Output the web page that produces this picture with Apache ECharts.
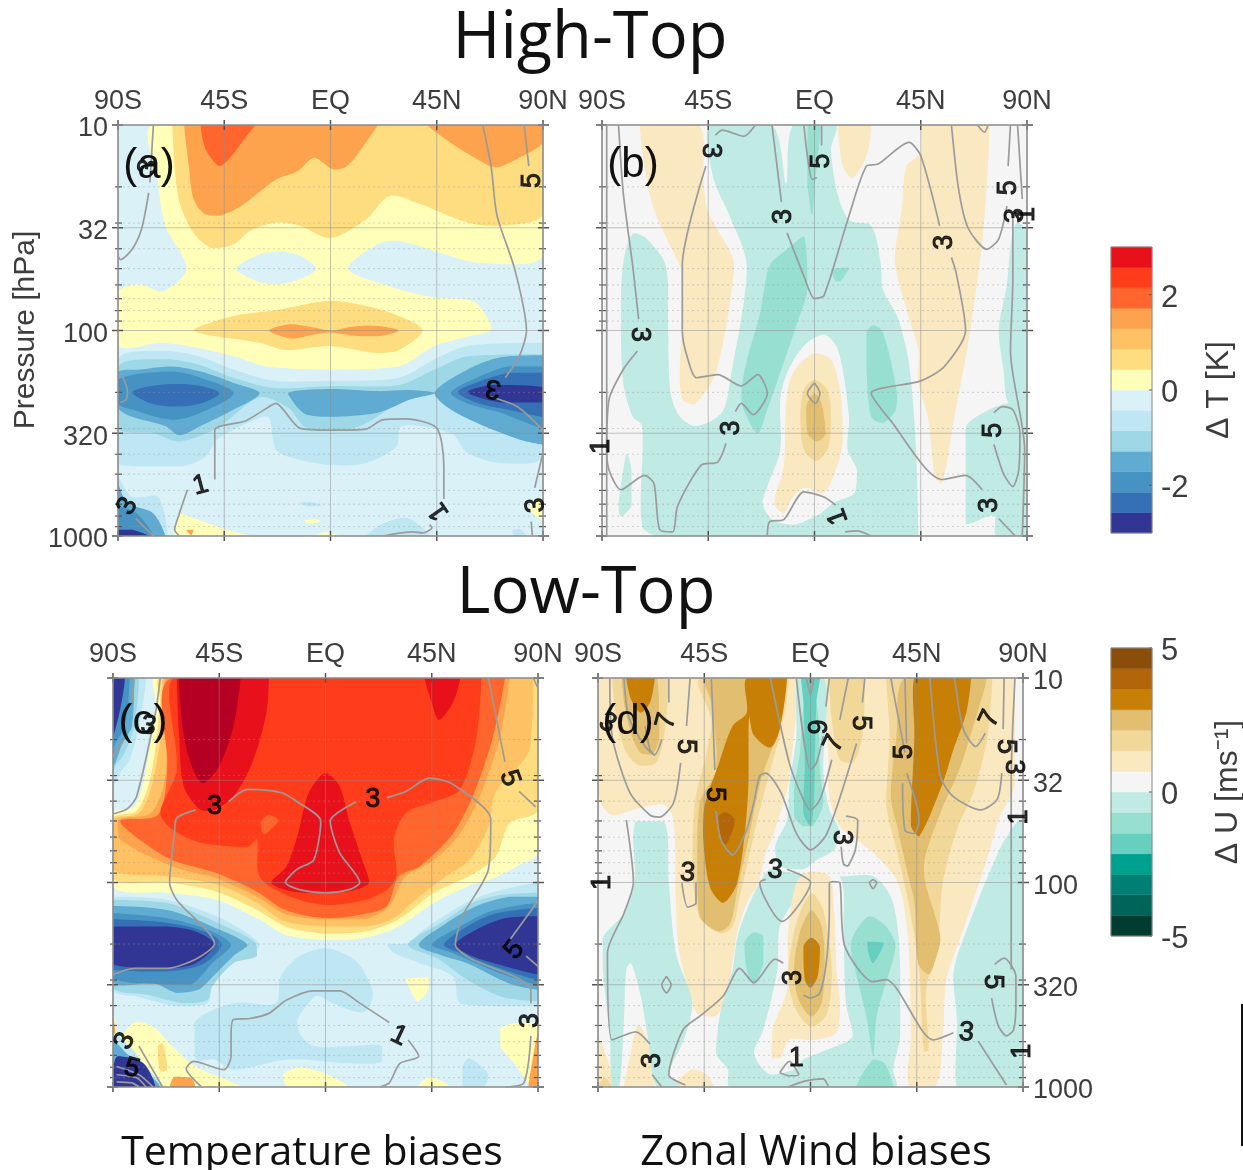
<!DOCTYPE html>
<html><head><meta charset="utf-8">
<style>html,body{margin:0;padding:0;background:#fff}#c{width:1243px;height:1170px;filter:blur(0.5px)}</style>
<script src="https://cdn.jsdelivr.net/npm/echarts@6/dist/echarts.min.js"></script>
</head><body><div id="c"></div><script>
const latLabels = {'-90':'90S','-45':'45S','0':'EQ','45':'45N','90':'90N'};
const pressureLabels = ['10','32','100','320','1000'];
const minorPressures = [20,30,40,50,60,70,80,90,200,300,400,500,600,700,800,900];
const tempLevels = [-7,-6,-5,-4,-3,-2,-1,1,2,3,4,5,6,7];
const tempColors = ['#313695','#3570B6','#4592C3','#5FABD2','#9ED8E6','#BEE7F3','#DAF1F8','#FFFFB9','#FEDD80','#FEC265','#FDA34D','#FF652D','#FF3D1B','#E8101A'];
const windColors = ['#003C30','#00645A','#007F74','#00A08F','#66CFBF','#97E0D0','#C0EAE4','#F5F5F5','#F9E8C0','#F2D898','#E2BF70','#C87F06','#B3650A','#8A4E0A'];
const extraHot = '#B50024';

/* filled contour bands: [level, [lat, levelOfPressure, lat, levelOfPressure ...]] */
const bandsA = [
[1,[-75,0,90,0,90,1.27,63,1.34,46,1.24,29,1.13,20,1.16,7.5,1.40,25,1.57,44,1.68,58,1.70,63,1.76,68,1.99,58,2.06,44,2.15,29,2.35,0,2.38,-27,2.35,-41,2.25,-70,2.12,-90,2.15,-90,1.63,-81,1.55,-71,1.62,-61,1.40,-70,.98,-73,.56]],
[-1,[-40,1.40,-30,1.26,-21,1.23,-13,1.27,-6,1.40,-13,1.50,-23,1.55,-31,1.52]],
[2,[-67,0,90,0,90,.87,72,.98,58,.95,38,.77,25,.69,15,.92,0,1.10,-13,.98,-23,.95,-34,1.03,-41,1.16,-50,1.20,-58,1.05,-64,.75,-66,.40]],
[4,[-62,0,-60,.40,-58,.72,-53,.87,-47,.88,-38,.79,-23,.53,-14,.45,-7,.32,1,.43,7,.40,15,.17,20,0]],
[4,[41,0,52,.19,62,.33,70,.41,79,.33,90,.17,90,0]],
[5,[-55,0,-53,.23,-47,.40,-43,.33,-37,.15,-32,0]],
[2,[-58,2,-41,1.86,-23,1.80,0,1.71,15,1.76,29,1.86,39,2,29,2.19,20,2.22,0,2.15,-19,2.19,-30,2.12]],
[4,[-26,2,-17,1.94,-7,1.97,0,2,10,1.96,22,1.96,29,2,22,2.05,10,2.05,0,2.02,-7,2.04,-16,2.08]],
[-2,[-90,2.28,-70,2.20,-56,2.25,-41,2.38,-24,2.49,0,2.49,29,2.46,44,2.28,58,2.15,90,2.12,90,3.23,72,3.29,58,3.19,51,3.0,30,2.93,28,3.13,15,3.29,1,3.31,-13,3.26,-23,3.16,-26,2.85,-30,2.85,-48,3.06,-53,3.23,-63,3.32,-84,3.32,-90,3.29]],
[-3,[-90,2.35,-70,2.28,-56,2.33,-41,2.46,-24,2.56,0,2.54,29,2.53,44,2.38,58,2.25,90,2.23,90,3.11,80,3.06,65,2.93,51,2.77,44,2.62,30,2.70,10,2.95,-10,2.95,-18,2.75,-30,2.65,-48,2.95,-64,3.08,-75,3.0,-90,2.95]],
[-4,[-90,2.41,-81,2.38,-67,2.35,-55,2.40,-41,2.51,-30,2.61,-41,2.77,-55,2.93,-64,3.02,-70,2.93,-84,2.84,-90,2.75]],
[-4,[-18,2.61,0,2.57,20,2.59,34,2.58,44,2.61,34,2.67,20,2.80,0,2.84,-10,2.82,-14,2.75]],
[-4,[44,2.61,58,2.38,72,2.26,90,2.24,90,3.11,80,3.06,65,2.93,51,2.77]],
[-5,[-90,2.48,-67,2.40,-55,2.46,-41,2.61,-55,2.80,-67,2.87,-84,2.77,-90,2.71]],
[-5,[51,2.61,60,2.48,75,2.35,90,2.35,90,2.95,72,2.80,58,2.71]],
[-6,[-84,2.6,-76,2.54,-65,2.52,-55,2.54,-47,2.61,-55,2.71,-65,2.74,-76,2.71]],
[-6,[54,2.6,65,2.48,76,2.41,90,2.41,90,2.84,75,2.77,63,2.71]],
[-7,[58,2.6,68,2.53,90,2.55,90,2.70,72,2.70]],
[-2,[-90,3.42,-84,3.62,-73,3.62,-69,4,-90,4]],
[-4,[-90,3.49,-86,3.68,-75,3.78,-70,4,-90,4]],
[-5,[-90,3.71,-82,3.78,-75,4,-90,4]],
[-7,[-90,3.94,-84,3.94,-77,4,-90,4]],
[1,[-66,4,-64,3.78,-55,3.85,-44,3.94,-34,4]],
[4,[-61,3.94,-58,3.94,-59,3.99]],
[-2,[-13,3.68,-8,3.67,-4,3.70,-10,3.71]],
[1,[-11,3.85,-6,3.84,-4,3.86,-9,3.88]],
[-2,[15,4,22,3.88,32,3.82,38,3.9,42,4]],
[1,[-7,4,-2,3.96,4,4]],
[1,[84,3.72,90,3.62,90,3.85]],
[-2,[77,3.95,80,3.93,83,4,78,4]]
];
const contoursA = [
[-75,0,-76.5,.56],[-77,.66,-80,1.01,-84,1.21,-89,1.31,-90,1.27],
[-88,2.45,-86,2.59,-86.5,2.67,-89,2.70],
[-60.6,3.55,-64,3.78,-66,3.94,-64,4],
[-49,3.45,-49,2.97,-36,2.88,-28,2.77,-23,2.71,-20,2.77,-13,2.95,0,2.97,15,2.96,22,2.87,32,2.86,45,2.95,48,3.32,48,3.64],
[22,4,35,3.96,39,3.97,43,3.92,42,3.89],
[64.5,0,68,.40,70.5,.88,78,1.40,83,2,80,2.25,74,2.46],[67,2.64,79,2.74,90,2.97],
[90,3.19,86.5,3.53],[85,3.86,85.5,4],
[82,0,84,.40],
[-82.5,3.83,-75,4]
];
const labelsA = [[-77,.41,'3',80],[-55,3.51,'1',15],[46,3.76,'1',125],[85.5,.54,'5',90],[69,2.56,'3',170],[-86,3.71,'3',60],[87,3.7,'3',95]];

const bandsB = [
[-1,[-44,0,-18,0,-12,.57,-9,0,9,0,7,.24,10,.69,15,.93,24,.98,28,1.34,29,1.6,35,1.86,39,2.19,41,2.51,43,3.16,44,4,-66,4,-73,3.9,-73,2.93,-77,2.84,-81,2.51,-82,1.86,-81,1.34,-77,1.06,-71,1.11,-63,1.37,-62,2.0,-61,2.6,-57,2.84,-50,2.93,-39,2.79,-35,2.38,-30,1.73,-29,1.31,-36,.88,-43,.5]],
[-1,[-79.5,3.2,-77.5,3.36,-77.5,3.7,-82,3.81,-83,3.7,-81,3.36]],
[-1,[64,2.95,74,2.77,84,2.7,90,2.84,90,4,77,4,76,3.8,64,3.88,64,3.58]],
[-1,[86,.95,90,1.05,90,2.84,82,2.7,80,2.38,78,2.0,81.5,1.55,83.5,1.1]],
[2,[-74,0,-49,0,-47,.56,-45,.85,-34,1.34,-36,1.76,-39,2.15,-43,2.48,-51,2.72,-56,2.67,-57,2.35,-56,1.93,-56,1.44,-61,1.18,-68,.82,-72,.40]],
[2,[10,0,24,0,22,.3,16,.52,12,.40]],
[2,[46,0,74,0,73.5,.40,71,1.14,66,1.99,62,2.51,59,2.87,54,3.49,51,3.42,48,2.84,44,2.51,44,2.19,39,1.8,34,1.31,37,.82,39,.40,45,.27]],
[1,[4,2.04,10,2.19,14.6,2.84,14,3.16,18,3.36,17,3.58,8,3.68,2.5,3.78,-9,3.89,-18,3.84,-22,3.68,-20,3.52,-14.5,3.16,-14.5,2.67,-11.6,2.41,-4.5,2.15]],
[2,[0,2.22,7,2.28,11,2.61,12,3.06,10,3.29,4,3.58,-4.5,3.53,-10,3.65,-13,3.78,-17,3.68,-13,3.32,-12,2.71,-9,2.41]],
[3,[0,2.48,5.4,2.58,7,2.84,6,3.13,1,3.27,-4.5,3.16,-6,2.84,-4.5,2.58]],
[4,[0,2.61,3,2.71,4.7,3,1,3.08,-3,3,-3.5,2.74]],
[-2,[-4.5,1.08,-3,1.6,-7.4,1.93,-16,2.51,-20,2.77,-24,3,-30,2.77,-31,2.61,-29,2.32,-23,1.83,-19,1.37,-11.6,1.21]],
[-2,[25,1.95,29,2.02,35,2.61,34.5,2.77,29,2.9,24,2.84,22,2.35,22,2.02]],
[-2,[7,1.4,14.6,1.39,11,1.52,9,1.52]],
[-2,[-3,0,2.5,0,.4,.53,-1,.88,-3,.56]]
];
const contoursB = [
[-83,0,-81,.66,-77,1.37,-74.5,1.89],
[-75,2.2,-81,2.38,-87,2.67,-88,3.16,-87,3.36,-82,3.55,-72,3.41,-68,3.49,-65.5,3.94,-60,3.96,-58,3.71,-48,3.31,-41,3.28,-37.5,3.1],
[-33.5,2.79,-31,2.71,-26,2.82,-20,2.61,-24,2.43,-31,2.54,-41,2.43,-50,2.46,-54,2.25,-56,2,-56,1.37,-46,.4],
[-42,.1,-39,.05,-30,.11,-25,0],
[-18,0,-14,.75],[-11.6,1.05,-4.5,1.47,0,1.69,4,1.66,14,.93,22,.4,27,.38,40,.17,45,.3,53,.98],
[58,1.29,60,1.44,64,2,55,2.35,45,2.49,24,2.61,32,2.87,54,3.45,64,3.41,71,3.55],[78,3.83,85,4],
[-4.5,0,-1,.53,1,.51],[3,0,3,.2],
[58,0,61,.62,65,1.0,73,1.21,78,1.11,81.5,.79],[82,.4,83,0],
[0,2.51,2.3,2.61,.4,2.71,-3,2.61,0,2.51],
[69,0,72,.07,73.5,0],
[76,3.11,80,3.39,84,3.52,86.5,3.36,87,3,84,2.77,79.6,2.74,76,2.8],
[-20,4,-19,3.86,-13,3.84,-4.5,3.57,4,3.62,9,3.7],
[13,3.96,18,3.95,24,4],
[84,.89,84,1.5,83,2.2,89,3.16,88,4],
[86,0,88,.72],[-88,0,-88,4]
];
const labelsB = [[-74,2.04,'3',-90],[-44,.25,'3',-90],[-13,.89,'3',90],[3,.35,'5',90],[55,1.14,'3',90],[82,.61,'5',90],[85,.88,'3',90],[90,.87,'1',90],[-35,2.95,'3',90],[76,2.97,'5',90],[74,3.7,'3',90],[10,3.81,'1',110],[-90,3.13,'1',90]];

const bandsC = [
[1,[-72,0,90,0,90,1.71,82,1.83,71,1.96,60,2.04,46,2.20,31,2.43,17,2.54,0,2.56,-17,2.51,-29,2.35,-46,2.17,-67,2.10,-90,2.04,-90,1.32,-81,1.26,-76,.90,-72,.24]],
[2,[-70,0,90,0,90,1.29,78,1.42,72,1.75,63,1.91,46,2.10,31,2.36,17,2.48,0,2.50,-17,2.43,-29,2.27,-46,2.09,-67,2.0,-90,1.96,-90,1.37,-80,1.30,-74,.96,-70,.24]],
[3,[-68,0,88,0,86.5,.70,72,1.12,69,1.45,61,1.78,51,1.94,38,2.17,28,2.36,17,2.43,0,2.43,-17,2.38,-29,2.20,-46,2.02,-67,1.94,-90,1.87,-90,1.39,-79,1.32,-73,1.0,-68,.24]],
[4,[-67,0,78,0,74,.57,66,1.12,57,1.52,46,1.78,34,1.94,27,2.23,17,2.36,0,2.36,-17,2.31,-29,2.14,-46,1.96,-65,1.84,-87,1.58,-88,1.39,-74,1.32,-68,.99,-67,.24]],
[5,[-65,0,76,0,71,.57,63,1.12,54,1.52,40,1.84,31,1.94,26,2.23,16,2.31,0,2.35,-17,2.27,-29,2.09,-46,1.91,-65,1.78,-77,1.61,-87,1.40,-71,1.34,-67,.90]],
[6,[-64,0,66,0,64,.57,57,1.09,46,1.21,34,1.32,29,1.58,30,1.94,26,2.07,17,2.17,0,2.22,-17,2.12,-28,1.94,-29,1.58,-33,1.65,-53,1.61,-65,1.48,-70,1.32,-63,.90]],
[7,[-63,0,-62,.57,-60,1.06,-53,1.29,-48,1.30,-39,1.16,-31,.83,-25,.34,-24,0]],
[8,[-62,0,-36,0,-39,.47,-45,.86,-52,1.03,-56,.90,-60,.57]],
[7,[42,0,57,0,54,.24,48,.41,45,.24]],
[7,[0,.93,6,1.06,10,1.39,15,1.74,18.5,2.0,9,2.09,-5,2.10,-14,2.09,-23,2.0,-16.5,1.84,-12,1.55,-7,1.12]],
[5,[-27.5,1.42,-24,1.34,-20,1.39,-24,1.5,-26,1.53]],
[-2,[-90,2.14,-67,2.17,-46,2.33,-33,2.5,-28,2.61,-32,2.72,-42,2.79,-48,2.95,-50,3.18,-63,3.21,-79,3.12,-90,3.05]],
[-2,[26,2.61,36,2.59,40,2.49,57,2.23,70,2.10,90,2.0,90,3.21,73,3.21,57,3.18,54,2.92,40,2.79,29,2.69]],
[-2,[0,2.64,12,2.75,17.5,2.92,20,3.11,16,3.27,3,3.18,-4,3.11,-11,3.34,-11,3.47,-5,3.6,12,3.6,24,3.6,24,3.75,12,3.77,-16,3.73,-39,3.83,-47,3.73,-55,3.73,-55.5,3.37,-39,3.18,-21,3.18,-19,2.92,-11,2.72]],
[-1,[-4,3.13,3,3.18,16,3.37,6,3.59,-4,3.6,-12,3.37]],
[-3,[-90,2.17,-67,2.2,-45,2.4,-29.5,2.59,-29,2.72,-39,2.79,-48,3.02,-50,3.15,-60,3.18,-75,3.1,-90,3.02]],
[-4,[-90,2.23,-67,2.27,-48,2.43,-33,2.61,-39,2.72,-49,2.95,-54,3.05,-63,3.08,-72,2.99,-90,2.97]],
[-5,[-90,2.3,-67,2.35,-50,2.46,-40,2.61,-48,2.79,-57,3.0,-67,3.0,-90,2.93]],
[-6,[-90,2.36,-65,2.40,-50,2.49,-44,2.61,-52,2.80,-67,2.87,-90,2.85]],
[-7,[-90,2.43,-67,2.43,-55,2.48,-47,2.61,-55,2.79,-67,2.84,-90,2.80]],
[-3,[35,2.61,50,2.38,62,2.2,75,2.12,90,2.1,90,3.16,75,3.12,60,2.95,48,2.75]],
[-4,[39.5,2.61,51,2.40,64,2.23,78,2.14,90,2.14,90,3.05,78,2.99,60,2.79,50,2.72]],
[-5,[45,2.61,57,2.43,70,2.28,90,2.2,90,3.0,72,2.87,54,2.69]],
[-6,[50,2.61,60,2.43,71,2.31,90,2.25,90,2.95,74,2.84,57,2.69]],
[-7,[55,2.61,64,2.46,76,2.35,90,2.33,90,2.9,76,2.82,62,2.72]],
[1,[34,2.95,44,2.93,43.5,3.05,39,3.16,36,3.05]],
[1,[74,3.43,82,3.37,90,3.37,90,4,86,3.96,80,3.77,74,3.6]],
[1,[-18,3.88,-11,3.81,0,3.87,9,3.98,9,4,-16,4]],
[1,[39,4,44,3.9,52,3.98,52,4]],
[4,[87,3.83,90,3.47,90,4,86,4]],
[-2,[58,3.8,61,3.72,69,3.88,67,4,58,4]],
[1,[-90,3.28,-88.5,3.54,-81,3.37,-73,3.41,-65,3.6,-55,3.8,-42,3.93,-35,4,-70,4,-77,3.77,-86,3.6]],
[2,[-71,3.6,-69,3.57,-67,3.83,-70,3.85]],
[4,[-66,4,-64,3.9,-57,3.91,-55,4]],
[4,[-90,3.31,-89,3.47,-90,3.5]],
[-2,[-90,3.47,-83,3.6,-77,3.77,-69,4,-90,4]],
[-4,[-90,3.54,-83,3.7,-70,4,-90,4]],
[-7,[-88,3.7,-77,3.77,-72,4,-90,4,-90,3.83]],
[-2,[-90,0,-76,0,-79,.47,-83,.80,-87,.93,-90,1.06]],
[-3,[-90,0,-79,0,-81,.47,-85,.73,-89,.86,-90,.96]],
[-4,[-90,0,-81,0,-82,.47,-86,.64,-89,.83,-90,.86]],
[-5,[-90,0,-83,0,-85,.47,-89,.64,-90,.70]],
[-7,[-90,0,-85,0,-87,.31,-90,.57]]
];
const contoursC = [
[-70,0,-72,.34,-80,1.16,-84,1.28,-90,1.33],
[-81,0,-82,.24],[-85,.59,-90,.77],
[-55,1.29,-63,1.37,-64,1.52,-66,2.0,-63,2.17,-47,2.6,-55,2.75,-67,2.84,-81,2.84,-90,2.9],
[-41,1.21,-33,1.09,-19,1.12,-12,1.21,-2,1.4,-5,1.78,-12,1.87,-17,2.0,-11,2.07,0,2.1,10,2.07,14.5,2.0,6,1.71,2,1.40,13,1.21],
[26,1.17,34,1.11,44,.98,54,1.04,70,1.38,69,1.87,58,2.33,55,2.61,62,2.75,81,2.93,87,3.05,87,3.18],
[87,3.5,84,3.96,76,4],
[69,0,76,.82],[82,1.11,89,1.26],[88,0,90,.1],
[90,2.18,77.5,2.58],[85,2.72,90,2.82],
[27,3.37,14.5,3.18,6,3.06,-5,3.06,-16.5,3.15,-24,3.28,-32,3.33,-39,3.34,-40,3.5,-40,3.7,-43,3.83,-56,3.75,-59,3.82,-52.5,4],
[35,3.54,39.5,3.7,31.5,3.77,27,3.96,23,4],
[-79,3.6,-69,4],[-88.5,3.8,-79,3.88,-73,4],[-88.5,3.88,-80,3.91,-76,4],[-88.5,3.95,-82,3.96,-79,4]
];
const labelsC = [[-47,1.26,'3',0],[20,1.19,'3',0],[78,.98,'5',-70],[80,2.66,'5',50],[87,3.35,'3',90],[31,3.5,'1',-25],[-85,3.55,'3',65],[-82,3.82,'5',-15],[-75,.47,'3',-10]];

const bandsD = [
[2,[-90,0,-5,0,-9,.99,-11.5,1.22,-16,1.55,-19,1.71,-22,2.0,-27,2.2,-31,2.49,-33,2.79,-36,3.15,-40.5,3.31,-48,3.28,-52.5,2.98,-56,2.62,-57,2.2,-58,1.39,-62,1.24,-75,1.29,-84,1.34,-89,1.21,-90,.9]],
[2,[5.4,0,86.6,0,86.6,1.03,80,1.37,74.6,1.78,64.7,2.46,57.6,2.95,56,3.5,53,3.99,42,4,42.5,3.5,42,2.85,41,2.46,37,2.0,28,1.74,19.5,1.58,12.4,1.45,8,1.16,7.5,.73,6.5,.24]],
[2,[-79,4,-76.5,3.72,-73,3.39,-68,3.6,-66,4]],
[2,[-90,3.5,-86,3.73,-83,4,-90,4]],
[2,[-55,3.91,-50,3.83,-44,3.88,-41,4,-58,4]],
[3,[-90,4,-87,3.91,-84,4]],
[-1,[-74,1.40,-62,1.40,-60,2.0,-57,2.69,-50,3.18,-53,3.5,-60,3.88,-55,4,-65,4,-69,3.5,-72,3.1,-76,2.79,-78,2.85,-79,3.34,-81,4,-84,4,-85,3.5,-88,2.85,-88,2.54,-79,2.3,-74.5,2.0]],
[-1,[-21.5,2.0,-17,1.87,-6,1.91,13,1.94,26.5,1.94,34,2.14,37,2.46,38,2.85,38,3.5,35,3.83,36,4,-34,4,-35,3.83,-40,3.67,-38,3.25,-33,2.85,-31,2.54,-27,2.27]],
[-1,[-5,0,5.4,0,7,.24,5.4,.9,8,1.29,12,1.48,10,1.68,2.5,1.78,-3,1.87,-13,1.84,-15,1.65,-10,1.39,-9,1.06,-6,.57]],
[-1,[60.5,2.92,63,2.66,80,1.68,88,1.39,90,1.39,90,4,62,4,62,3.34]],
[1,[-1,1.87,12.4,1.94,14,2.53,15,3.18,18,3.5,5.4,3.65,-3,3.73,-7,3.83,-17,3.88,-24,3.67,-20,3.44,-14,2.85,-13,2.43,-6,2.14]],
[2,[-6,2.0,0,1.89,8,1.94,10,2.27,11,2.85,12.4,3.18,11,3.47,1,3.54,-9,3.54,-13,3.72,-16.5,3.72,-16,3.44,-10,3.05,-9.5,2.5]],
[3,[.4,2.1,5.4,2.27,9,2.85,7,3.28,.4,3.41,-6,3.25,-9.5,2.92,-6,2.4]],
[4,[.4,2.27,4.7,2.43,6,2.79,4.7,3.18,.4,3.31,-5,3.15,-7,2.85,-4.5,2.49]],
[5,[.4,2.54,4,2.63,3,2.92,0,3.03,-2.4,2.95,-3,2.63]],
[3,[32,0,77,0,75,.57,69,1.12,62.5,1.45,56,2.0,54,2.59,49,3.05,50,3.65,48,3.65,46,2.85,41,2.14,36.4,1.68,32,1.22,33.5,.57]],
[3,[8,0,23,0,22,.57,18,.83,12.4,.80,9,.4]],
[4,[40,0,74.6,0,69,.47,63,.9,55,1.32,48,1.87,55,2.53,53,2.75,50,2.9,45.6,2.79,44,2.2,40.7,1.87,37,1.48,34,1.16,36.4,.57]],
[5,[44,0,68,0,66,.34,60.5,.70,56,1.03,46,1.55,42.5,1.44,44,.57]],
[3,[-84,0,-60,0,-62,.57,-65.5,.83,-72,.86,-78,.73,-82,.41]],
[4,[-80,0,-65,0,-64,.57,-67,.75,-72,.73,-76,.54,-79,.24]],
[5,[-78,0,-66,0,-68,.24,-72,.34,-76,.21]],
[3,[-47,0,-9,0,-12,.47,-17,.9,-21.5,1.29,-26,1.74,-30,2.14,-33,2.43,-38,2.5,-47,2.33,-50,1.87,-49,1.22,-44,.73,-42,.41]],
[4,[-44.5,0,-10,0,-13,.47,-21,1.0,-26,1.55,-31,2.07,-34,2.4,-39,2.48,-47,2.33,-48,1.87,-47,1.22,-40,.9,-42,.24]],
[5,[-27,0,-10,0,-13,.5,-17,.68,-24,.56,-26,.38,-26.5,1.16,-31,2.0,-37,2.2,-42.5,2.05,-45.5,1.55,-45,1.26,-39,.85,-33,.47,-27,.34]],
[6,[-36,1.31,-32,1.39,-34,1.55,-36,1.63,-38,1.55,-39,1.36]],
[-2,[-24,2.49,-20,2.53,-20,2.79,-24,3.0,-27,2.85,-28,2.59]],
[-2,[25,2.33,32,2.43,36,2.62,31,3.05,28,3.31,26.5,3.7,24,3.35,21,3.05,17,2.62,19.5,2.46]],
[-3,[24,2.58,31,2.59,26.5,2.79,24.5,2.69]],
[-2,[19.5,4,26.5,3.73,31.5,3.77,35,4]],
[-2,[-2.4,.24,2.5,.24,4,.9,5.4,1.22,1,1.45,-3,1.45,-7,1.35,-7,1.09,-4.5,.73]],
[-3,[-4,0,4,0,2.5,.24,1.4,1.22,0,1.45,-3,1.32,-2.4,.9,-3,.24]]
];
const contoursD = [
[-85,0,-84,.57,-76.5,1.12,-68,1.34,-64,1.36,-58,1.22,-55,.83],
[-79,0,-77,.38,-70,.67,-66,.75,-63,.60],[-70,.47,-68,.70,-66,.76],[-60,.24,-60,0],[-51,0,-52.5,.47],
[-42,0,-40.5,.90],
[-40,1.3,-38,1.58,-33,1.73,-27,1.48,-24,1.22,-21.5,.96,-19,.93,-12.5,1.12,-6,1.52,0,1.68,7,1.52,19.5,.64],[22,.24,23,0],
[-17,0,-9,.83,-3,1.19,0,1.29,4,1.19,9,.80],[12.4,.41,16,0],
[-6,0,0,.9,2.5,.83,5.4,.57],[8,0,6.5,.28],[-1.7,0,0,.16,1.4,0],
[-78,1.39,-75,2.0,-79,2.3,-86,2.69,-84,3.54,-74,3.46,-68,3.58],[-67,3.88,-63,4],
[-54.5,2,-52,2.24,-48.5,2.2,-48.5,2.0],
[-19,1.97,-21.5,2.0,-12,2.38,0,2.0,-10,1.87],
[8,2.0,9.6,1.99,12.4,2,14.5,2.62,26.5,2.97,32,2.95,52,3.54,60.5,3.47],
[8,2.0,8,2.2,7,2.72,4,3.08,0,3.13,-3,3.1],
[-11.5,2.79,-15,2.75,-24,2.98,-30,2.84,-37,3.11,-47,3.31,-54,3.44,-60,3.88,-53,3.98],
[16,1.84,14,1.82,13,1.65],[15,1.35,20,1.39,19,1.68,16,1.84],
[34,0,40,.73],[40.7,.93,46,1.39,44,1.52,40,1.49,39,1.03],[40,0,40.7,.64],
[50.6,0,55,.96,60.5,1.16,72,1.29,79,1.19,81,.93],
[61,0,64.7,.5,70,.67,74,.54],[81.6,.5,82,0],[86.6,0,85,1.0,85,2.85],
[78,2.8,82,2.74,87,2.92,87,3.18,86,3.44,83,3.5,79.5,3.4,76.7,3.13],
[71,3.55,83,3.98],
[26.5,1.97,28,2.0,26.5,2.06,25,2,26.5,1.97],[-61,2.92,-59,3.0,-61,3.08,-63,3.0,-61,2.92],
[-13,3.86,-9,3.75,-5,3.88,-9,3.89,-13,3.86],
[-9.5,4,-2,3.94,5.4,3.92,7.5,3.99]
];
const labelsD = [[-86,.44,'3',-30],[-61,.42,'7',75],[-53,.67,'5',-90],[-40.5,1.14,'5',-90],[4,.48,'9',90],[10,.64,'7',65],[21,.44,'5',-90],[40,.72,'5',90],[76,.4,'7',65],[82.5,.67,'5',-90],[86,.87,'3',-90],[88.5,1.36,'1',90],[-88,2.0,'1',90],[-52,1.91,'3',-5],[-15,1.88,'3',-5],[13,1.56,'3',-90],[-7,2.93,'3',90],[-67,3.74,'3',90],[66,3.47,'3',-5],[77,2.97,'5',-90],[-6,3.72,'1',0],[90,3.65,'1',90]];

const panels = [
 {grid:{left:118,top:125,width:425,height:411},bands:bandsA,lines:contoursA,labels:labelsA,colors:tempColors,bg:'#DAF1F8',yLabels:'left'},
 {grid:{left:602,top:125,width:425,height:411},bands:bandsB,lines:contoursB,labels:labelsB,colors:windColors,bg:'#F5F5F5'},
 {grid:{left:113,top:678,width:425,height:409},bands:bandsC,lines:contoursC,labels:labelsC,colors:tempColors,bg:'#DAF1F8'},
 {grid:{left:598,top:678,width:425,height:409},bands:bandsD,lines:contoursD,labels:labelsD,colors:windColors,bg:'#F5F5F5',yLabels:'right'}
];
const AXIS='#3d3d3d';
function pairs(f){const o=[];for(let i=0;i<f.length;i+=2)o.push([f[i],f[i+1]]);return o;}
function colorOf(p,l){ if(l===8) return extraHot; return p[tempLevels.indexOf(l)]; }
const pressureToLevel = p => 2*Math.log10(p/10);

const grid=[],xAxis=[],yAxis=[],series=[];
panels.forEach((P,i)=>{
  grid.push(Object.assign({show:true,backgroundColor:P.bg,borderWidth:0},P.grid));
  xAxis.push({type:'value',gridIndex:i,position:'top',min:-90,max:90,interval:45,axisLine:{show:false},axisTick:{show:false},splitLine:{show:false},
    axisLabel:{show:true,margin:10,fontSize:27,color:AXIS,fontFamily:'Liberation Sans',formatter:v=>latLabels[String(v)],showMinLabel:true,showMaxLabel:true,hideOverlap:false}});
  yAxis.push({type:'value',gridIndex:i,inverse:true,min:0,max:4,interval:1,position:P.yLabels||'left',axisLine:{show:false},axisTick:{show:false},splitLine:{show:false},
    axisLabel:{show:!!P.yLabels,margin:10,fontSize:27,color:AXIS,fontFamily:'Liberation Sans',verticalAlign:'top',lineHeight:8,formatter:v=>pressureLabels[v],showMinLabel:true,showMaxLabel:true}});
  series.push({type:'custom',xAxisIndex:i,yAxisIndex:i,clip:true,silent:true,z:2,
    data:P.bands.map(b=>[b[1][0],b[1][1],b[0]]),encode:{x:0,y:1},
    renderItem:(params,api)=>{
      const b=P.bands[params.dataIndex];
      const pts=pairs(b[1]).map(q=>api.coord(q));
      return {type:'polygon',shape:{points:pts,smooth:0.3,smoothConstraint:[pts[0],pts[0]]},
        style:{fill:colorOf(P.colors,b[0]),stroke:null}};
    }});
  const minors=minorPressures.map(pressureToLevel);
  series.push({type:'custom',xAxisIndex:i,yAxisIndex:i,clip:false,silent:true,z:4,
    data:[[0,0]],encode:{x:0,y:1},
    renderItem:(params,api)=>{
      const c=[];const L=(x1,y1,x2,y2,stroke,w,dash)=>c.push({type:'line',shape:{x1,y1,x2,y2},style:{stroke,lineWidth:w,lineDash:dash||null}});
      const tl=api.coord([-90,0]),br=api.coord([90,4]);
      minors.forEach(v=>{const y=api.coord([0,v])[1];
        L(tl[0],y,br[0],y,'rgba(150,150,150,.4)',1,[2,3]);
        L(tl[0]-3,y,tl[0]+4,y,'#555',1.2);L(br[0]-4,y,br[0]+3,y,'#555',1.2);});
      [1,2,3].forEach(v=>{const y=api.coord([0,v])[1];
        L(tl[0],y,br[0],y,'rgba(140,140,140,.5)',1);});
      [0,1,2,3,4].forEach(v=>{const y=api.coord([0,v])[1];
        L(tl[0]-6,y,tl[0]+5,y,'#555',1.5);L(br[0]-5,y,br[0]+6,y,'#555',1.5);});
      [-90,-45,0,45,90].forEach(v=>{const x=api.coord([v,0])[0];
        if(v>-90&&v<90)L(x,tl[1],x,br[1],'rgba(140,140,140,.5)',1);
        L(x,tl[1]-5,x,tl[1]+5,'#555',1.5);L(x,br[1]-5,x,br[1]+5,'#555',1.5);});
      c.push({type:'rect',shape:{x:tl[0],y:tl[1],width:br[0]-tl[0],height:br[1]-tl[1]},style:{fill:'none',stroke:'#8a8a8a',lineWidth:1.6}});
      return {type:'group',children:c};
    }});
  P.lines.forEach(l=>series.push({type:'line',xAxisIndex:i,yAxisIndex:i,data:pairs(l),showSymbol:false,symbol:'none',smooth:0.25,silent:true,z:5,
    lineStyle:{color:'#9b9b9b',width:1.7},clip:true}));
  series.push({type:'scatter',xAxisIndex:i,yAxisIndex:i,symbolSize:1,silent:true,z:6,clip:false,itemStyle:{color:'rgba(0,0,0,0)'},
    data:P.labels.map(a=>({value:[a[0],a[1]],label:{show:true,position:'inside',formatter:a[2],rotate:a[3],fontSize:27,color:'#000',fontFamily:'Liberation Sans',textBorderColor:'#000',textBorderWidth:1}}))});
});

/* colour bars */
const tempBarTicks=[-2,0,2], windBarTicks=[-5,0,5];
[{colors:tempColors,min:-3,max:3,ticks:tempBarTicks,rect:{left:1111,top:247,width:41,height:286}},
 {colors:windColors,min:-5,max:5,ticks:windBarTicks,rect:{left:1111,top:648,width:41,height:288}}].forEach(B=>{
  const gi=grid.length;
  grid.push(Object.assign({show:false},B.rect));
  xAxis.push({type:'value',gridIndex:gi,min:0,max:1,show:false});
  yAxis.push({type:'value',gridIndex:gi,position:'right',min:B.min,max:B.max,axisLine:{show:false},splitLine:{show:false},
    axisTick:{show:false},
    axisLabel:{show:true,margin:9,fontSize:31,color:AXIS,fontFamily:'Liberation Sans',verticalAlign:'top',lineHeight:7,customValues:B.ticks,formatter:v=>String(v)}});
  const step=(B.max-B.min)/B.colors.length;
  series.push({type:'custom',xAxisIndex:gi,yAxisIndex:gi,silent:true,z:3,clip:false,
    data:B.colors.map((c,k)=>[k]),encode:{x:0},
    renderItem:(params,api)=>{
      const k=params.dataIndex;
      const a=api.coord([0,B.min+k*step]),b=api.coord([1,B.min+(k+1)*step]);
      return {type:'rect',shape:{x:a[0],y:b[1],width:b[0]-a[0],height:a[1]-b[1]},style:{fill:B.colors[k],stroke:B.colors[k],lineWidth:.5}};
    }});
  series.push({type:'custom',xAxisIndex:gi,yAxisIndex:gi,silent:true,z:4,clip:false,
    data:B.ticks.map(v=>[1,v]),encode:{x:0,y:1},
    renderItem:(params,api)=>{
      const a=api.coord([1,B.ticks[params.dataIndex]]);
      return {type:'line',shape:{x1:a[0]-3,y1:a[1],x2:a[0],y2:a[1]},style:{stroke:'#555',lineWidth:1}};
    }});
});

const txt=(text,x,y,size,extra)=>Object.assign({type:'text',x,y,z:20,silent:true,style:Object.assign({text,fontSize:size,fontFamily:'Liberation Sans',fill:'#222',align:'center',verticalAlign:'middle'},extra&&extra.style||{})},extra&&extra.el||{});
const graphic=[
 txt('High-Top',590,39,65,{style:{fontFamily:'Open Sans',fill:'#111'}}),
 txt('Low-Top',586,594,65,{style:{fontFamily:'Open Sans',fill:'#111'}}),
 txt('Temperature biases',312,1153,41,{style:{fontFamily:'Open Sans',fill:'#111'}}),
 txt('Zonal Wind biases',816,1153,41.6,{style:{fontFamily:'Open Sans',fill:'#111'}}),
 txt('(a)',149,166,42,{style:{fill:'#111'}}),
 txt('(b)',633,165,42,{style:{fill:'#111'}}),
 txt('(c)',143,722,42,{style:{fill:'#111'}}),
 txt('(d)',628,722,42,{style:{fill:'#111'}}),
 txt('Pressure [hPa]',26,330,30,{el:{rotation:Math.PI/2},style:{fill:'#3d3d3d'}}),
 txt('Δ T [K]',1219,390,32,{el:{rotation:Math.PI/2},style:{fill:'#3d3d3d'}}),
 txt('Δ U [ms⁻¹]',1228,792,32,{el:{rotation:Math.PI/2},style:{fill:'#3d3d3d'}}),
 {type:'rect',z:20,silent:true,shape:{x:1111,y:247,width:41,height:286},style:{fill:'none',stroke:'#8a8a8a',lineWidth:1}},
 {type:'rect',z:20,silent:true,shape:{x:1111,y:648,width:41,height:288},style:{fill:'none',stroke:'#8a8a8a',lineWidth:1}},
 {type:'line',z:20,silent:true,shape:{x1:1242,y1:1004,x2:1242,y2:1146},style:{stroke:'#111',lineWidth:2}}
];
const chart=echarts.init(document.getElementById('c'),null,{renderer:'canvas'});
chart.setOption({animation:false,backgroundColor:'#fff',tooltip:{show:false},grid,xAxis,yAxis,series,graphic});
</script></body></html>
